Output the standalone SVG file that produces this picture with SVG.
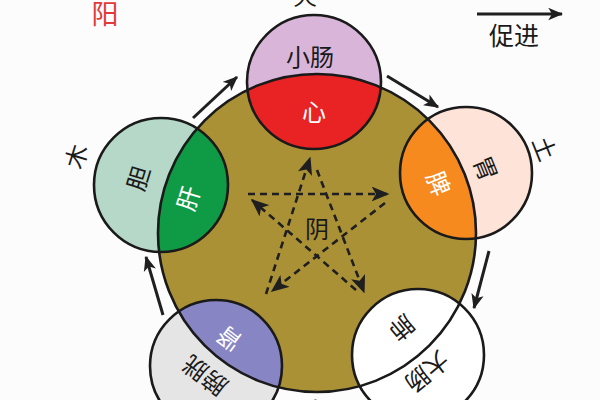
<svg xmlns="http://www.w3.org/2000/svg" width="600" height="400" viewBox="0 0 600 400">
<style>
.ol{fill:none;stroke:#1a1a1a;stroke-width:2.6}
.t{font-family:"Noto Sans CJK SC","Noto Sans",sans-serif;font-size:24px;text-anchor:middle;dominant-baseline:central;fill:#1a1a1a}
.w{fill:#ffffff}
.conn{stroke:#1f1f1f;stroke-width:3;fill:none;marker-end:url(#arr)}
.star{stroke:#1f1f1f;stroke-width:2.6;fill:none;stroke-dasharray:7 5;marker-end:url(#sarr)}
</style>
<defs>
<clipPath id="big"><circle cx="317" cy="233" r="159"/></clipPath>
<marker id="arr" viewBox="0 0 12 10" refX="11" refY="5" markerWidth="15" markerHeight="13" markerUnits="userSpaceOnUse" orient="auto">
<path d="M0,0 L12,5 L0,10 L3,5 z" fill="#1f1f1f"/>
</marker>
<marker id="sarr" viewBox="0 0 12 10" refX="11" refY="5" markerWidth="18" markerHeight="15" markerUnits="userSpaceOnUse" orient="auto">
<path d="M0,0 L12,5 L0,10 L3,5 z" fill="#1f1f1f"/>
</marker>
</defs>
<rect width="600" height="400" fill="#fcfcfc"/>

<g id="yin">
<circle cx="317" cy="233" r="159" fill="#ab9136"/>
</g>

<g id="fire">
<circle cx="314" cy="82" r="67" fill="#d9b5d9"/>
<circle cx="314" cy="82" r="67" fill="#e92224" clip-path="url(#big)"/>
<circle cx="314" cy="82" r="67" class="ol"/>
<text class="t" x="310" y="55">小肠</text>
<text class="t w" x="314" y="110">心</text>
<text class="t" x="305" y="-6">火</text>
</g>

<g id="earth">
<circle cx="466" cy="173" r="66" fill="#fde3d8"/>
<circle cx="466" cy="173" r="66" fill="#f68a1e" clip-path="url(#big)"/>
<circle cx="466" cy="173" r="66" class="ol"/>
<text class="t" transform="translate(487,168) rotate(68)">胃</text>
<text class="t w" transform="translate(440,183) rotate(68)">脾</text>
<text class="t" transform="translate(546,148) rotate(68)">土</text>
</g>

<g id="metal">
<circle cx="418" cy="355" r="66" fill="#ffffff"/>
<circle cx="418" cy="355" r="66" class="ol"/>
<text class="t" transform="translate(403,329) rotate(140)">肺</text>
<text class="t" transform="translate(428,373) rotate(140)">大肠</text>
</g>

<g id="water">
<circle cx="216" cy="366" r="66" fill="#e5e5e5"/>
<circle cx="216" cy="366" r="66" fill="#8785c4" clip-path="url(#big)"/>
<circle cx="216" cy="366" r="66" class="ol"/>
<text class="t w" transform="translate(228,340) rotate(-143)">肾</text>
<text class="t" transform="translate(204,377) rotate(-143)">膀胱</text>
</g>

<g id="wood">
<circle cx="161" cy="185" r="67" fill="#b5d8c9"/>
<circle cx="161" cy="185" r="67" fill="#0f9a45" clip-path="url(#big)"/>
<circle cx="161" cy="185" r="67" class="ol"/>
<text class="t" transform="translate(137,178) rotate(-73)">胆</text>
<text class="t w" transform="translate(187,198) rotate(-73)">肝</text>
<text class="t" transform="translate(75,156) rotate(-73)">木</text>
</g>

<g id="yin-outline">
<circle cx="317" cy="233" r="159" class="ol"/>
<text class="t" x="317" y="227">阴</text>
</g>

<g id="connectors">
<path class="conn" d="M193,118 L237,77"/>
<path class="conn" d="M387,76 L438,107"/>
<path class="conn" d="M489,251 L474,308"/>
<path class="conn" d="M362,414 L302,403"/>
<path class="conn" d="M163,315 L146,257"/>
<path class="star" d="M317,170 L364,292"/>
<path class="star" d="M356,290 L252,200"/>
<path class="star" d="M248,194 L388,194"/>
<path class="star" d="M385,203 L272,291"/>
<path class="star" d="M266,294 L310,158"/>
</g>

<g id="legend">
<text x="105" y="12" style="font-family:'Noto Sans CJK SC','Noto Sans',sans-serif;font-size:27px;fill:#e03a3a;text-anchor:middle;dominant-baseline:central">阳</text>
<path class="conn" d="M477,14 L562,14"/>
<text class="t" x="514" y="34" style="font-size:25px">促进</text>
</g>
</svg>
